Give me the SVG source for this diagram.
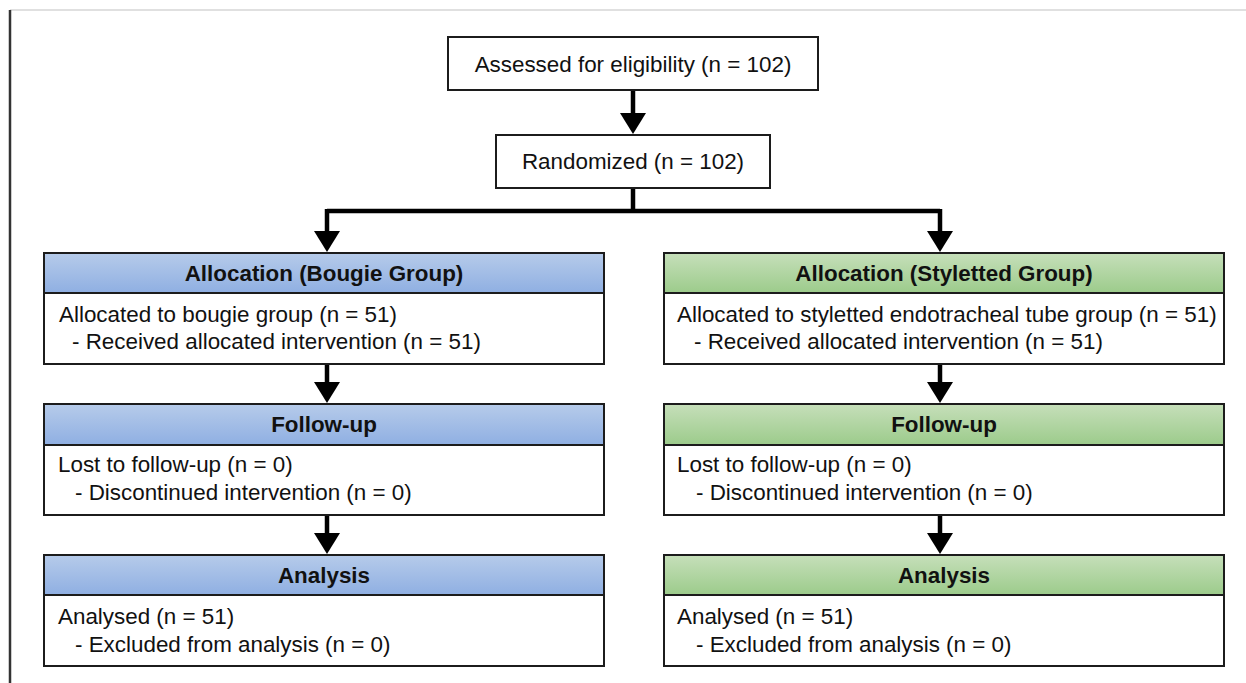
<svg xmlns="http://www.w3.org/2000/svg" width="1246" height="683" viewBox="0 0 1246 683">
<style>
  .box { fill: #ffffff; stroke: #1c1c1c; stroke-width: 2; }
  .hb { fill: url(#gBlue); stroke: #1c1c1c; stroke-width: 2; }
  .hg { fill: url(#gGreen); stroke: #1c1c1c; stroke-width: 2; }
  .t { font-family: "Liberation Sans", Arial, sans-serif; font-size: 22.4px; fill: #111; }
  .c { text-anchor: middle; }
  .h { font-family: "Liberation Sans", Arial, sans-serif; font-size: 22.4px; font-weight: bold; fill: #111; text-anchor: middle; }
  .ln { fill: none; stroke: #000; stroke-width: 4.5; }
</style>
<defs>
  <linearGradient id="gBlue" x1="0" y1="0" x2="0" y2="1">
    <stop offset="0" stop-color="#b6cbea"/>
    <stop offset="1" stop-color="#8fafe2"/>
  </linearGradient>
  <linearGradient id="gGreen" x1="0" y1="0" x2="0" y2="1">
    <stop offset="0" stop-color="#c6dfba"/>
    <stop offset="1" stop-color="#9ccb8b"/>
  </linearGradient>
  <marker id="ah" viewBox="0 0 21 26" refX="1" refY="13" markerWidth="21" markerHeight="26" markerUnits="userSpaceOnUse" orient="auto">
    <path d="M0,0 L21,13 L0,26 Z" fill="#000"/>
  </marker>
</defs>
<rect x="0" y="0" width="1246" height="683" fill="#ffffff"/>
<g id="frame">
  <line x1="10" y1="10" x2="1246" y2="10" stroke="#d6d6d6" stroke-width="1.5"/>
  <line x1="10" y1="10" x2="10" y2="683" stroke="#333" stroke-width="2.5"/>
</g>

<g id="connectors">
  <path class="ln" d="M633,90 V114" marker-end="url(#ah)"/>
  <path class="ln" d="M633,188 V211"/>
  <path class="ln" d="M327,211 H940"/>
  <path class="ln" d="M327,209 V232" marker-end="url(#ah)"/>
  <path class="ln" d="M940,209 V232" marker-end="url(#ah)"/>
  <path class="ln" d="M327,364 V383" marker-end="url(#ah)"/>
  <path class="ln" d="M327,515 V534" marker-end="url(#ah)"/>
  <path class="ln" d="M940,364 V383" marker-end="url(#ah)"/>
  <path class="ln" d="M940,515 V534" marker-end="url(#ah)"/>
</g>

<g id="assessed">
  <rect class="box" x="448" y="37" width="370" height="53"/>
  <text class="t c" x="633" y="72">Assessed for eligibility (n = 102)</text>
</g>
<g id="randomized">
  <rect class="box" x="496" y="135" width="274" height="53"/>
  <text class="t c" x="633" y="169">Randomized (n = 102)</text>
</g>

<g id="alloc-bougie">
  <rect class="box" x="44" y="253" width="560" height="111"/>
  <rect class="hb" x="44" y="253" width="560" height="40"/>
  <text class="h" x="324" y="281">Allocation (Bougie Group)</text>
  <text class="t" x="59" y="322">Allocated to bougie group (n = 51)</text>
  <text class="t" x="72" y="349">- Received allocated intervention (n = 51)</text>
</g>
<g id="followup-bougie">
  <rect class="box" x="44" y="404" width="560" height="111"/>
  <rect class="hb" x="44" y="404" width="560" height="41"/>
  <text class="h" x="324" y="432">Follow-up</text>
  <text class="t" x="58" y="472">Lost to follow-up (n = 0)</text>
  <text class="t" x="75" y="500">- Discontinued intervention (n = 0)</text>
</g>
<g id="analysis-bougie">
  <rect class="box" x="44" y="555" width="560" height="111"/>
  <rect class="hb" x="44" y="555" width="560" height="40"/>
  <text class="h" x="324" y="583">Analysis</text>
  <text class="t" x="58" y="624">Analysed (n = 51)</text>
  <text class="t" x="75" y="652">- Excluded from analysis (n = 0)</text>
</g>

<g id="alloc-styletted">
  <rect class="box" x="664" y="253" width="560" height="111"/>
  <rect class="hg" x="664" y="253" width="560" height="40"/>
  <text class="h" x="944" y="281">Allocation (Styletted Group)</text>
  <text class="t" x="677" y="322">Allocated to styletted endotracheal tube group (n = 51)</text>
  <text class="t" x="694" y="349">- Received allocated intervention (n = 51)</text>
</g>
<g id="followup-styletted">
  <rect class="box" x="664" y="404" width="560" height="111"/>
  <rect class="hg" x="664" y="404" width="560" height="41"/>
  <text class="h" x="944" y="432">Follow-up</text>
  <text class="t" x="677" y="472">Lost to follow-up (n = 0)</text>
  <text class="t" x="696" y="500">- Discontinued intervention (n = 0)</text>
</g>
<g id="analysis-styletted">
  <rect class="box" x="664" y="555" width="560" height="111"/>
  <rect class="hg" x="664" y="555" width="560" height="40"/>
  <text class="h" x="944" y="583">Analysis</text>
  <text class="t" x="677" y="624">Analysed (n = 51)</text>
  <text class="t" x="696" y="652">- Excluded from analysis (n = 0)</text>
</g>
</svg>
